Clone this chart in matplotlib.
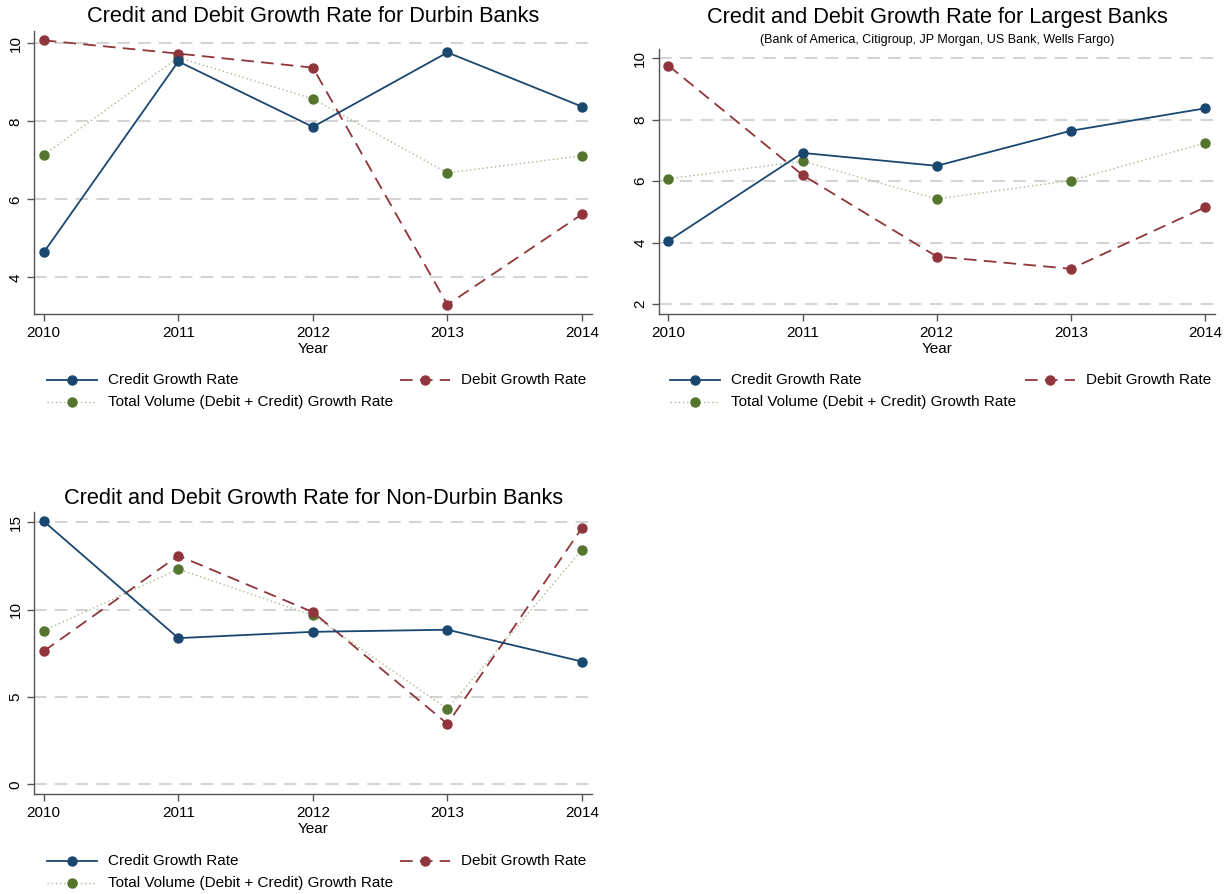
import matplotlib
matplotlib.use("Agg")
import matplotlib.pyplot as plt
import numpy as np

plt.rcParams['font.family'] = ['Liberation Sans', 'DejaVu Sans']

years = [2010, 2011, 2012, 2013, 2014]

durbin_credit = [4.64, 9.54, 7.86, 9.77, 8.38]
durbin_debit = [10.08, 9.74, 9.38, 3.30, 5.62]
durbin_total = [7.14, 9.64, 8.58, 6.68, 7.12]

largest_credit = [4.06, 6.92, 6.50, 7.64, 8.37]
largest_debit = [9.76, 6.20, 3.55, 3.15, 5.15]
largest_total = [6.08, 6.65, 5.42, 6.02, 7.24]

nondurbin_credit = [15.06, 8.37, 8.73, 8.85, 7.03]
nondurbin_debit = [7.62, 13.09, 9.86, 3.46, 14.68]
nondurbin_total = [8.79, 12.32, 9.67, 4.32, 13.43]

titles = ["Credit and Debit Growth Rate for Durbin Banks",
          "Credit and Debit Growth Rate for Largest Banks",
          "Credit and Debit Growth Rate for Non-Durbin Banks"]
subtitle = "(Bank of America, Citigroup, JP Morgan, US Bank, Wells Fargo)"
labels = ["Credit Growth Rate", "Debit Growth Rate",
          "Total Volume (Debit + Credit) Growth Rate"]

W, H = 1231, 894
fig = plt.figure(figsize=(W / 100, H / 100), dpi=100)
fig.patch.set_facecolor('white')

NAVY = '#1a476f'
MAROON = '#90353b'
GREEN = '#55752f'
GREEN_LINE = '#a8b890'
GRID = '#d4d4d4'
AX = '#555555'
FS = 11


def px_rect(left, top, right, bottom):
    return [left / W, 1 - bottom / H, (right - left) / W, (bottom - top) / H]


panels = [
    dict(rect=px_rect(34.3, 31, 592, 314), ylim=(3.06, 10.32), yticks=[4, 6, 8, 10],
         data=(durbin_credit, durbin_debit, durbin_total), title_y=17, sub=None,
         year_y=349, leg_y=[380, 402], leg_x=[47, 400]),
    dict(rect=px_rect(659, 49, 1215, 314), ylim=(1.68, 10.30), yticks=[2, 4, 6, 8, 10],
         data=(largest_credit, largest_debit, largest_total), title_y=17, sub=40,
         year_y=349, leg_y=[380, 402], leg_x=[670, 1025]),
    dict(rect=px_rect(34.3, 512, 592, 794), ylim=(-0.554, 15.59), yticks=[0, 5, 10, 15],
         data=(nondurbin_credit, nondurbin_debit, nondurbin_total), title_y=498, sub=None,
         year_y=829, leg_y=[861, 883], leg_x=[47, 400]),
]

for i, p in enumerate(panels):
    ax = fig.add_axes(p['rect'])
    credit, debit, total = p['data']
    ax.set_xlim(2009.93, 2014.074)
    ax.set_ylim(*p['ylim'])
    ax.set_yticks(p['yticks'])
    ax.set_xticks(years)
    ax.set_xticklabels([str(y) for y in years], fontsize=FS)
    ax.set_yticklabels([str(t) for t in p['yticks']], fontsize=FS,
                       rotation=90, va='center')
    for t in p['yticks']:
        ax.axhline(t, color=GRID, lw=1.5, ls=(0, (6, 4)), zorder=1)
    for s in ['top', 'right']:
        ax.spines[s].set_visible(False)
    for s in ['left', 'bottom']:
        ax.spines[s].set_color(AX)
        ax.spines[s].set_linewidth(1.0)
    ax.tick_params(axis='both', colors=AX, labelcolor='black', length=5, width=1.0)

    ax.plot(years, credit, color=NAVY, lw=1.3, marker='o', ms=6.5,
            mfc=NAVY, mec=NAVY, zorder=4)
    ax.plot(years, debit, color=MAROON, lw=1.3, ls=(0, (7, 4)), marker='o',
            ms=6.5, mfc=MAROON, mec=MAROON, zorder=3)
    ax.plot(years, total, color=GREEN_LINE, lw=1.0, ls=(0, (1, 2)), zorder=2)
    ax.plot(years, total, ls='none', marker='o', ms=6.5, mfc=GREEN, mec=GREEN, zorder=2)

    xc = (p['rect'][0] + p['rect'][2] / 2)
    fig.text(xc, 1 - p['title_y'] / H, titles[i], ha='center', va='center', fontsize=15.7)
    if p['sub']:
        fig.text(xc, 1 - p['sub'] / H, subtitle, ha='center', va='center', fontsize=9)
    fig.text(xc, 1 - p['year_y'] / H, "Year", ha='center', va='center', fontsize=FS)

    # manual legend
    entries = [
        (p['leg_x'][0], p['leg_y'][0], NAVY, '-', NAVY, labels[0], 1.3),
        (p['leg_x'][1], p['leg_y'][0], MAROON, (0, (7, 4)), MAROON, labels[1], 1.3),
        (p['leg_x'][0], p['leg_y'][1], GREEN_LINE, (0, (1, 2)), GREEN, labels[2], 1.0),
    ]
    for (x0, y0, lc, ls, mc, lab, lw) in entries:
        yy = 1 - y0 / H
        fig.add_artist(plt.Line2D([x0 / W, (x0 + 50) / W], [yy, yy], color=lc, ls=ls,
                                  lw=lw, transform=fig.transFigure))
        fig.add_artist(plt.Line2D([(x0 + 25) / W], [yy], color=mc, marker='o', ms=6.5,
                                  ls='none', transform=fig.transFigure))
        fig.text((x0 + 61) / W, yy, lab, ha='left', va='center', fontsize=FS)

fig.savefig("out.png", dpi=100, facecolor='white')
